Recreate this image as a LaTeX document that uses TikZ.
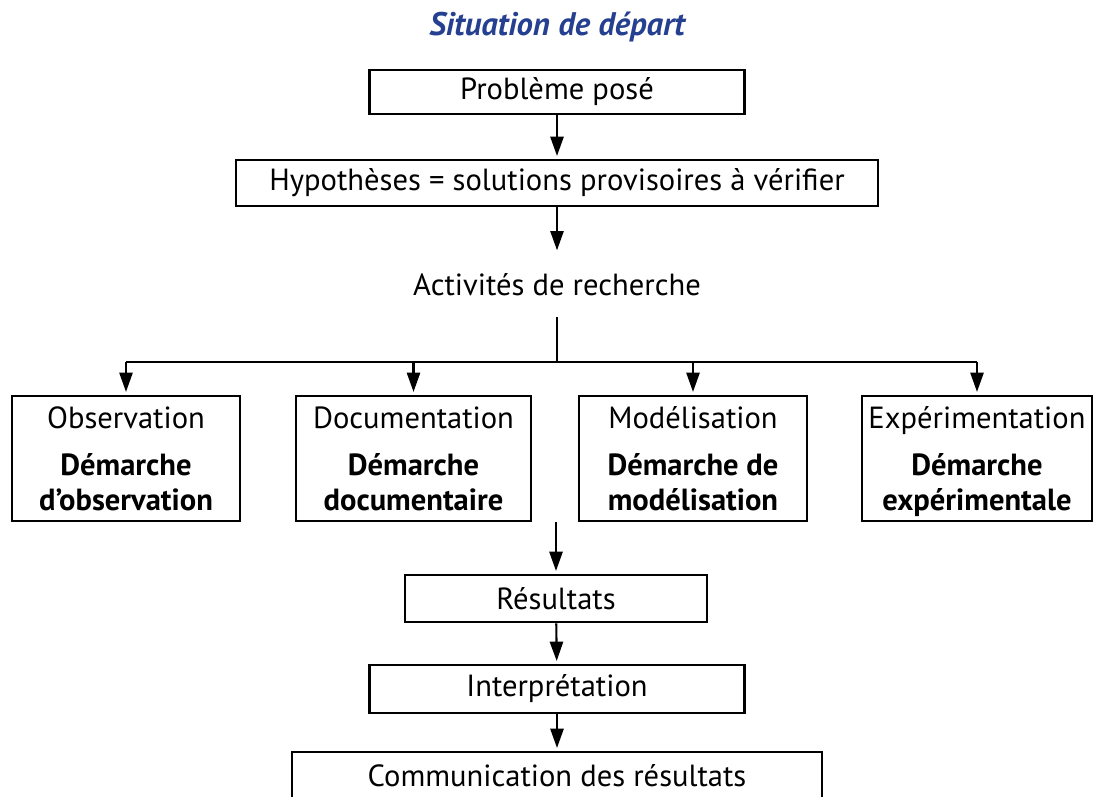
\documentclass[tikz,border=0pt]{standalone}
\usepackage{fontspec}
\setmainfont{PT Sans}
\usetikzlibrary{arrows.meta}
\definecolor{titleblue}{RGB}{38,64,145}

\begin{document}
\begin{tikzpicture}[x=0.02cm,y=-0.02cm,
  font=\fontsize{17.4}{20}\selectfont,
  box/.style={draw,line width=1.6pt,inner sep=0pt,align=center},
  link/.style={line width=1.2pt},
  arr/.style={link,shorten >=1.5pt,-{Triangle[length=11pt,width=7.5pt]}}]
\useasboundingbox (0,0) rectangle (1097,796);
\clip (0,0) rectangle (1097,796);

\node[font=\fontsize{18.6}{20}\selectfont\bfseries\itshape,text=titleblue] (titre) at (557,27) {Situation de départ};
\node[box,minimum width=7.5cm,minimum height=0.88cm] (pb) at (557,92) {Problème posé};
\node[box,minimum width=12.84cm,minimum height=0.92cm] (hyp) at (557,183) {Hypothèses = solutions provisoires à vérifier};
\node[outer ysep=0.3cm] (act) at (557,285) {Activités de recherche};

% les quatre demarches
\node[box,minimum width=4.56cm,minimum height=2.46cm] (obs) at (126,458.5) {\rule{0pt}{18.6pt}Observation\\[6.6pt]\textbf{Démarche}\\\textbf{d’observation}\strut};
\node[box,minimum width=4.7cm,minimum height=2.46cm] (doc) at (413.5,458.5) {\rule{0pt}{18.6pt}Documentation\\[6.6pt]\textbf{Démarche}\\\textbf{documentaire}\strut};
\node[box,minimum width=4.56cm,minimum height=2.46cm] (mod) at (693,458.5) {\rule{0pt}{18.6pt}Modélisation\\[6.6pt]\textbf{Démarche de}\\\textbf{modélisation}\strut};
\node[box,minimum width=4.6cm,minimum height=2.46cm] (exp) at (977,458.5) {\rule{0pt}{18.6pt}Expérimentation\\[6.6pt]\textbf{Démarche}\\\textbf{expérimentale}\strut};

\node[box,minimum width=6.04cm,minimum height=0.94cm] (res) at (556,598.5) {Résultats};
\node[box,minimum width=7.5cm,minimum height=0.96cm] (interp) at (557,689) {Interprétation};
\node[box,minimum width=10.6cm,minimum height=0.94cm] (comm) at (557,775.5) {Communication des résultats};

\coordinate (fork) at (557,362);

\draw[arr] (pb) -- (hyp);
\draw[arr] (hyp) -- (act.north);
\draw[link] (act.south) -- (fork);
\draw[link] (fork -| obs.north) -- (fork -| exp.north);
\foreach \b in {obs,doc,mod,exp}
  \draw[arr] (fork -| \b.north) -- (\b.north);
\draw[arr] (res.north |- doc.south) -- (res.north);
\draw[arr] (res) -- (interp);
\draw[arr] (interp) -- (comm);
\end{tikzpicture}
\end{document}
